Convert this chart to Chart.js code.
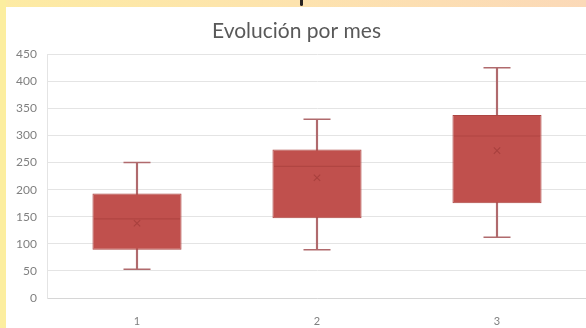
<!DOCTYPE html>
<html>
<head>
<meta charset="utf-8">
<script src="https://cdn.jsdelivr.net/npm/chart.js@4/dist/chart.umd.min.js"></script>
<style>
  html, body { margin: 0; padding: 0; width: 586px; height: 328px; overflow: hidden; }
  body {
    position: relative;
    background: linear-gradient(to right, #fdeba3 0%, #fde3ae 50%, #fbd9b8 100%);
  }
  #stripe { position: absolute; left: 0; top: 0; width: 6px; height: 328px; background: #fcee9f; }
  #glyph { position: absolute; left: 300px; top: -4px; width: 3px; height: 10px; border-radius: 2px; background: #2a2420; }
  #panel { position: absolute; left: 6px; top: 7px; width: 590px; height: 321px; background: #ffffff; overflow: hidden; }
  #c { display: block; }
</style>
</head>
<body>
<div id="stripe"></div>
<div id="glyph"></div>
<div id="panel"><canvas id="c" width="590" height="321"></canvas></div>
<script>
// Monthly distribution: quartiles, whiskers, medians and means
const categories = ['1', '2', '3'];
const q1Values = [89, 147, 175];
const q3Values = [193, 274, 338];
const minValues = [53, 89, 112];
const maxValues = [250, 330, 425];
const medianValues = [146, 243, 299];
const meanValues = [138, 222, 272];
const yTicks = [0, 50, 100, 150, 200, 250, 300, 350, 400, 450];

const boxFill = '#c0504d';
const boxEdge = '#ad4542';
const whiskerColor = '#b06a6d';
const fontFamily = 'Lato, "Open Sans", sans-serif';

const boxes = categories.map((_, i) => [q1Values[i], q3Values[i]]);
const stems = categories.map((_, i) => [minValues[i], maxValues[i]]);

new Chart(document.getElementById('c'), {
  data: {
    labels: categories,
    datasets: [
      { type: 'bar', data: stems, grouped: false, barThickness: 1.5,
        backgroundColor: whiskerColor, order: 4 },
      { type: 'bar', data: boxes, grouped: false, barPercentage: 0.495, categoryPercentage: 1,
        backgroundColor: boxFill, borderColor: boxEdge, borderWidth: 1, borderSkipped: false, order: 3 },
      { type: 'line', data: minValues, showLine: false, pointStyle: 'line', pointRadius: 13.5,
        borderColor: whiskerColor, pointBorderWidth: 1.5, order: 2 },
      { type: 'line', data: maxValues, showLine: false, pointStyle: 'line', pointRadius: 13.5,
        borderColor: whiskerColor, pointBorderWidth: 1.5, order: 2 },
      { type: 'line', data: medianValues, showLine: false, pointStyle: 'line', pointRadius: 43,
        borderColor: '#b04542', pointBorderWidth: 1.2, order: 1 },
      { type: 'line', data: meanValues, showLine: false, pointStyle: 'crossRot', pointRadius: 4.5,
        borderColor: '#a8403e', pointBorderWidth: 1.1, order: 0 }
    ]
  },
  options: {
    responsive: false,
    animation: false,
    events: [],
    layout: { autoPadding: false, padding: { left: 0, right: 9, top: 0, bottom: 2 } },
    plugins: {
      legend: { display: false },
      tooltip: { enabled: false },
      title: {
        display: true,
        text: 'Evolución por mes',
        color: '#595959',
        font: { family: fontFamily, size: 21, weight: 'normal' },
        padding: { top: 12, bottom: 10 }
      }
    },
    scales: {
      x: {
        offset: true,
        afterFit: (scale) => { scale.height = 28; },
        grid: { display: false },
        border: { display: true, color: '#d6d6d6' },
        ticks: { color: '#7f7f7f', font: { family: fontFamily, size: 11 }, padding: 9 }
      },
      y: {
        min: 0,
        max: 450,
        afterBuildTicks: (scale) => { scale.ticks = yTicks.map(v => ({ value: v })); },
        afterFit: (scale) => { scale.width = 41; },
        grid: { color: '#e4e4e4', lineWidth: 1, drawTicks: false },
        border: { display: true, color: '#e4e4e4' },
        ticks: { color: '#808080', font: { family: fontFamily, size: 12 }, padding: 10 }
      }
    }
  }
});
</script>
</body>
</html>
